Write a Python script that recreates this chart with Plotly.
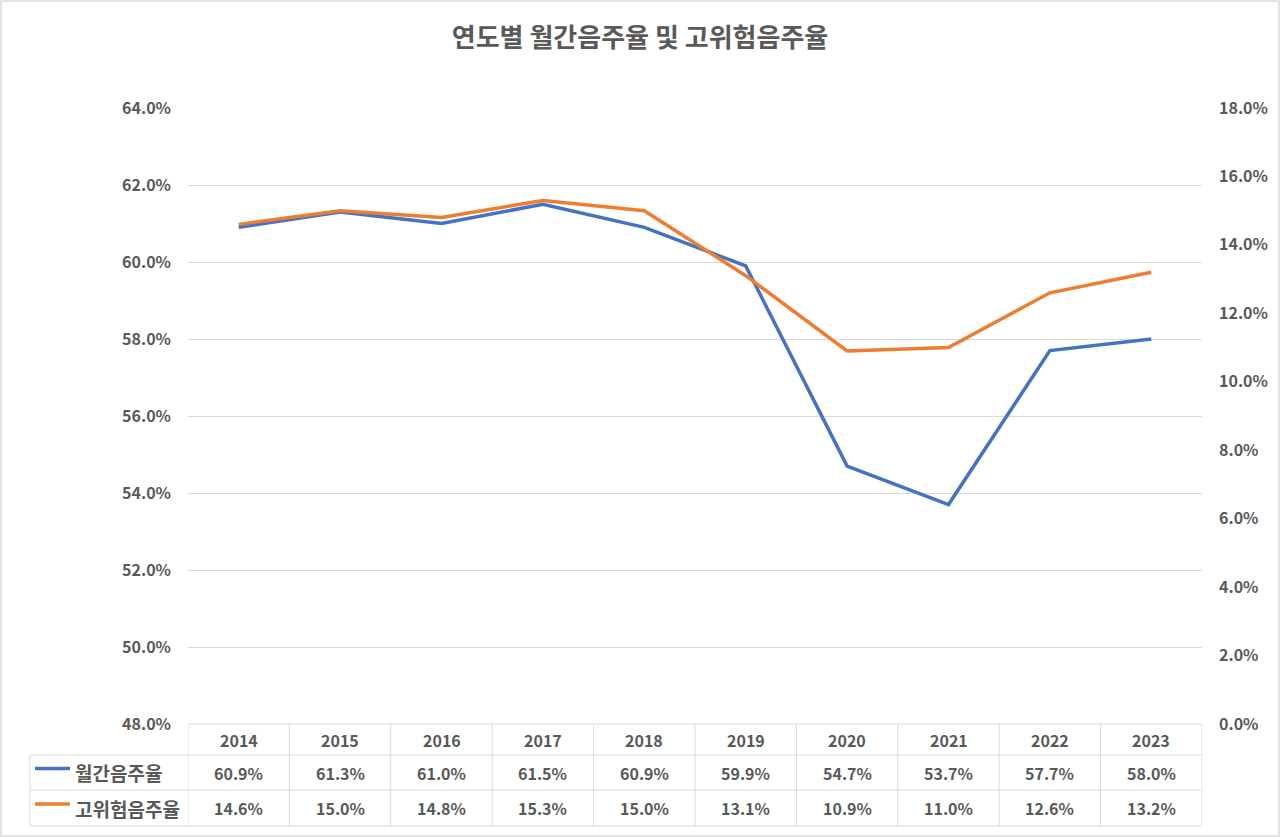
import plotly.graph_objects as go

years = ["2014", "2015", "2016", "2017", "2018", "2019", "2020", "2021", "2022", "2023"]
monthly = [60.9, 61.3, 61.0, 61.5, 60.9, 59.9, 54.7, 53.7, 57.7, 58.0]
highrisk = [14.6, 15.0, 14.8, 15.3, 15.0, 13.1, 10.9, 11.0, 12.6, 13.2]
series_names = ["월간음주율", "고위험음주율"]
colors = ["#4472C4", "#ED7D31"]

W, H = 1280, 837
FONT = "Noto Sans CJK KR"
TXT = "#595959"
GRID = "#D9D9D9"

def px(x):
    return x / W

def py(y):
    return 1 - y / H

x_l, x_r = 188, 1202
y_t, y_b = 108, 724
row_y = [724, 755, 790, 826]
tbl_left = 30

idx = list(range(len(years)))

fig = go.Figure()
fig.add_trace(go.Scatter(x=idx, y=monthly, mode="lines", name=series_names[0],
                         line=dict(color=colors[0], width=3.5), yaxis="y"))
fig.add_trace(go.Scatter(x=idx, y=highrisk, mode="lines", name=series_names[1],
                         line=dict(color=colors[1], width=3.5), yaxis="y2"))

shapes = []
annots = []
for i, yy in enumerate(row_y):
    x0 = x_l if i == 0 else tbl_left
    shapes.append(dict(type="line", xref="paper", yref="paper", x0=px(x0), x1=px(x_r),
                       y0=py(yy), y1=py(yy), line=dict(color=GRID, width=1)))
for k in range(len(years) + 1):
    shapes.append(dict(type="line", xref="x", yref="paper", x0=k - 0.5, x1=k - 0.5,
                       y0=py(row_y[0]), y1=py(row_y[3]), line=dict(color=GRID, width=1)))
shapes.append(dict(type="line", xref="paper", yref="paper", x0=px(tbl_left), x1=px(tbl_left),
                   y0=py(row_y[1]), y1=py(row_y[3]), line=dict(color=GRID, width=1)))
shapes.append(dict(type="rect", xref="paper", yref="paper", x0=px(1), x1=px(W - 1),
                   y0=py(H - 1), y1=py(1), line=dict(color=GRID, width=1.5)))

fnt = dict(family=FONT, size=16, color=TXT)
for i, yr in enumerate(years):
    annots.append(dict(x=i, y=py((row_y[0] + row_y[1]) / 2), xref="x", yref="paper",
                       xanchor="center", yanchor="middle",
                       text="<b>%s</b>" % yr, showarrow=False, font=fnt))
for r, vals in enumerate([monthly, highrisk]):
    ycp = (row_y[r + 1] + row_y[r + 2]) / 2
    yc = py(ycp)
    for i, v in enumerate(vals):
        annots.append(dict(x=i, y=yc, xref="x", yref="paper", xanchor="center", yanchor="middle",
                           text="<b>%.1f%%</b>" % v, showarrow=False, font=fnt))
    shapes.append(dict(type="line", xref="paper", yref="paper", x0=px(35), x1=px(70),
                       y0=py(ycp - 4), y1=py(ycp - 4), line=dict(color=colors[r], width=3.5)))
    annots.append(dict(x=px(73), y=yc, xref="paper", yref="paper", xanchor="left", yanchor="middle",
                       text="<b>%s</b>" % series_names[r], showarrow=False,
                       font=dict(family=FONT, size=19, color=TXT)))

tickfont = dict(family=FONT, size=16, color=TXT)
fig.update_layout(
    template="none",
    width=W, height=H, autosize=False,
    margin=dict(l=0, r=0, t=0, b=0, pad=0),
    paper_bgcolor="white", plot_bgcolor="white",
    showlegend=False,
    title=dict(text="<b>연도별 월간음주율 및 고위험음주율</b>", x=0.5, xanchor="center",
               xref="paper", yref="paper", y=py(38), yanchor="middle", automargin=False,
               font=dict(family=FONT, size=26, color=TXT)),
    xaxis=dict(domain=[px(x_l), px(x_r)], range=[-0.5, len(years) - 0.5], automargin=False,
               showticklabels=False, showgrid=False, zeroline=False, ticks="", showline=False),
    yaxis=dict(domain=[py(y_b), py(y_t)], range=[48, 64], dtick=2, automargin=False,
               tickformat=".1f", tickprefix="<b>", ticksuffix="%</b>", showgrid=True,
               gridcolor=GRID, gridwidth=1, zeroline=False, showline=False, ticks="",
               tickfont=tickfont, ticklabelstandoff=16),
    yaxis2=dict(overlaying="y", side="right", range=[0, 18], dtick=2, automargin=False,
                tickformat=".1f", tickprefix="<b>", ticksuffix="%</b>", showgrid=False,
                zeroline=False, showline=False, ticks="",
                tickfont=tickfont, ticklabelstandoff=16),
    shapes=shapes,
    annotations=annots,
)

fig.write_html("out.html")
